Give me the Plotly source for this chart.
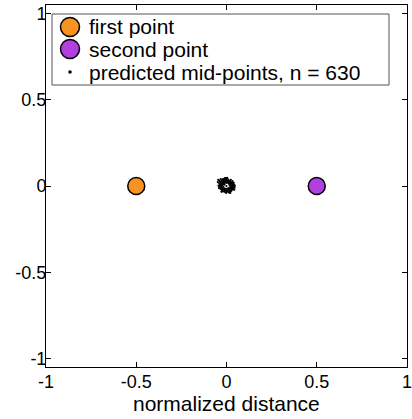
import plotly.graph_objects as go

# Data
first_point = {"x": [-0.5], "y": [0.0]}
second_point = {"x": [0.5], "y": [0.0]}
n_mid = 630

# predicted mid-points (read approximately from the cluster around the origin)
mid_x = [0.025, 0.030, 0.022, 0.035, 0.028, 0.040, 0.020, 0.015, 0.005, -0.003,
         -0.010, -0.018, -0.025, -0.030, -0.028, -0.022, -0.015, -0.006, 0.004, 0.012,
         0.018, 0.026, 0.032, 0.038, -0.035, -0.038, -0.020, -0.012, 0.000, 0.010,
         0.022, 0.030, -0.030, -0.040, -0.033, -0.025, -0.008, 0.008, 0.020, 0.035,
         0.042, 0.045, 0.015, -0.014, 0.013, -0.012, 0.017, -0.018, 0.002, -0.002,
         0.028, -0.026, -0.044, 0.006, -0.005, -0.016, 0.024, 0.033, 0.040, -0.042,
         -0.036, -0.022, -0.010, 0.016, 0.027, 0.014, -0.002, -0.018, -0.030, -0.024,
         0.024, 0.010, -0.008, 0.019, -0.020, 0.011, -0.006, 0.031, -0.031, 0.036,
         -0.027, 0.007, -0.015, 0.021, -0.023, 0.002, 0.033, -0.037, 0.012, -0.004,
         0.026, -0.012, 0.018, -0.034, 0.038, 0.029, -0.019, 0.009, -0.011, 0.000,
         -0.046, -0.040, -0.032, -0.048, 0.046, 0.043, 0.021, -0.028, 0.003, -0.009]
mid_y = [0.003, -0.005, -0.010, 0.008, 0.012, -0.002, 0.015, 0.022, 0.025, 0.028,
         0.024, 0.020, 0.014, 0.005, -0.004, -0.012, -0.020, -0.024, -0.026, -0.022,
         -0.017, -0.014, 0.002, 0.010, 0.010, -0.005, 0.028, 0.035, 0.038, 0.034,
         0.026, 0.020, 0.022, 0.015, -0.018, -0.025, -0.035, -0.033, -0.030, -0.020,
         0.005, -0.010, -0.012, 0.012, 0.014, -0.014, 0.006, -0.004, 0.018, -0.017,
         -0.022, 0.030, 0.002, 0.042, 0.044, 0.040, 0.036, 0.028, 0.018, -0.012,
         0.026, 0.038, 0.030, 0.030, -0.028, -0.038, -0.040, -0.032, -0.014, 0.006,
         -0.004, 0.020, 0.019, -0.008, 0.010, -0.018, -0.020, 0.014, -0.010, -0.012,
         0.018, 0.030, 0.026, 0.019, -0.020, -0.032, -0.006, 0.002, 0.026, 0.034,
         0.008, -0.028, -0.025, 0.014, -0.016, -0.012, 0.016, -0.014, 0.008, 0.000,
         0.036, 0.032, 0.040, 0.022, 0.002, -0.022, -0.040, -0.034, 0.048, 0.046]

x_ticks = [-1, -0.5, 0, 0.5, 1]
x_tick_labels = ["-1", "-0.5", "0", "0.5", "1"]
y_ticks = [-1, -0.5, 0, 0.5, 1]
y_tick_labels = ["-1", "-0.5", "0", "0.5", "1"]
x_title = "normalized distance"

legend_labels = ["first point", "second point", f"predicted mid-points, n = {n_mid}"]
ORANGE = "#f7931e"
PURPLE = "#b23fe0"

FONT = "Liberation Sans, Arial, Helvetica, sans-serif"

fig = go.Figure()
fig.add_trace(go.Scatter(
    x=first_point["x"], y=first_point["y"], mode="markers", name=legend_labels[0],
    marker=dict(size=17, color=ORANGE, line=dict(color="black", width=1.5)),
))
fig.add_trace(go.Scatter(
    x=second_point["x"], y=second_point["y"], mode="markers", name=legend_labels[1],
    marker=dict(size=17, color=PURPLE, line=dict(color="black", width=1.5)),
))
fig.add_trace(go.Scatter(
    x=mid_x, y=mid_y, mode="markers", name=legend_labels[2],
    marker=dict(size=2.2, color="black", line=dict(width=0)),
))

axis_common = dict(
    showgrid=False, zeroline=False, showline=True, linecolor="black", linewidth=1,
    mirror="ticks", ticks="inside", ticklen=5, tickcolor="black", tickwidth=1,
    tickfont=dict(family=FONT, size=18, color="black"), automargin=False,
    ticklabeloverflow="allow",
)

# manual legend (box, symbols, labels) placed in paper coordinates
L, R, T, B = 46, 407, 5, 367
def px_x(p):
    return (p - L) / (R - L)
def px_y(p):
    return (B - p) / (B - T)

row_y = [27, 49, 72]
sym_x = 70
text_x = 87

shapes = [dict(type="rect", xref="paper", yref="paper",
               x0=px_x(52), x1=px_x(389), y0=px_y(85), y1=px_y(14),
               line=dict(color="#555555", width=1), fillcolor="white", layer="above")]
sym_specs = [(ORANGE, 9.5, 1.5), (PURPLE, 9.5, 1.5), ("black", 1.8, 0)]
for (col, rad, lw), ry in zip(sym_specs, row_y):
    shapes.append(dict(type="circle", xref="paper", yref="paper",
                       xsizemode="pixel", ysizemode="pixel",
                       xanchor=px_x(sym_x), yanchor=px_y(ry),
                       x0=-rad, x1=rad, y0=-rad, y1=rad,
                       fillcolor=col, line=dict(color="black", width=lw), layer="above"))

annotations = [dict(xref="paper", yref="paper", x=px_x(text_x), y=px_y(ry),
                    xanchor="left", yanchor="middle", showarrow=False, text=lab,
                    font=dict(family=FONT, size=21, color="black"))
               for lab, ry in zip(legend_labels, row_y)]
annotations.append(dict(xref="paper", yref="paper", x=0.5, y=px_y(404),
                        xanchor="center", yanchor="middle", showarrow=False,
                        text=x_title, font=dict(family=FONT, size=21, color="black")))

fig.update_layout(
    width=412, height=419,
    margin=dict(l=L, r=412 - R, t=T, b=419 - B, autoexpand=False),
    paper_bgcolor="white", plot_bgcolor="white",
    font=dict(family=FONT, color="black"),
    xaxis=dict(range=[-1, 1], tickvals=x_ticks, ticktext=x_tick_labels,
               ticklabelstandoff=-2, **axis_common),
    yaxis=dict(range=[-1.05, 1.05], tickvals=y_ticks, ticktext=y_tick_labels,
               ticklabelstandoff=-5, **axis_common),
    showlegend=False,
    shapes=shapes,
    annotations=annotations,
)

fig.write_html("out.html", config={"displayModeBar": False},
               post_script="document.body.style.margin='0';")
